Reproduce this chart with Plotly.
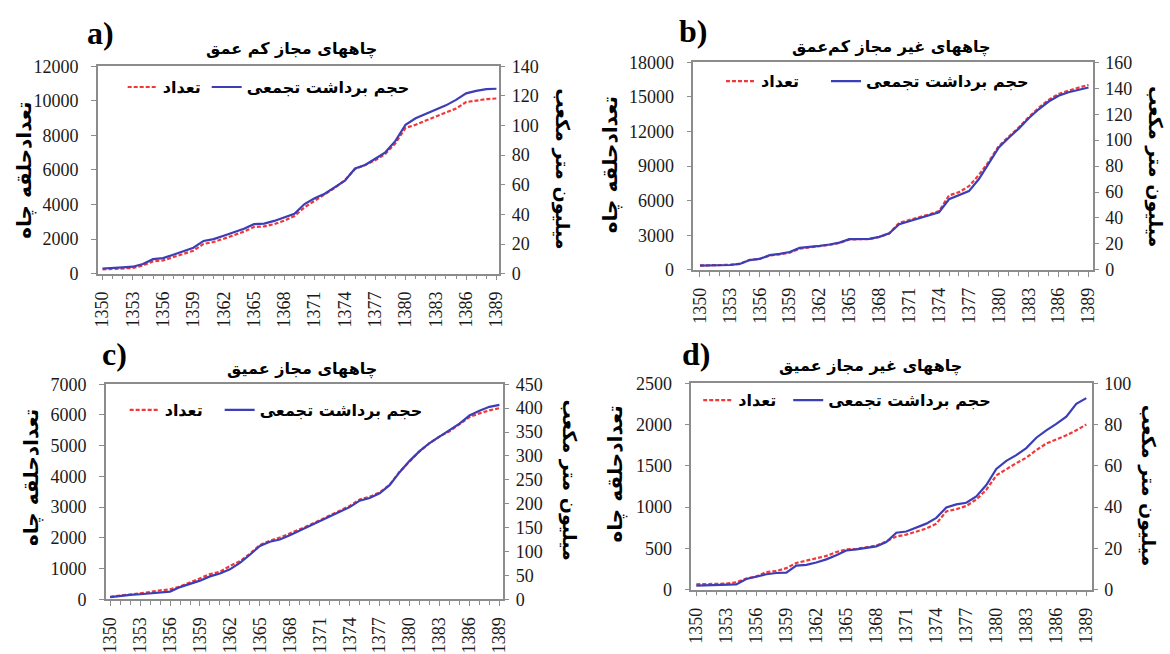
import plotly.graph_objects as go

# ---------------- data ----------------
years = list(range(1350, 1390))
x_tick_years = list(range(1350, 1390, 3))

# a) licensed shallow wells
count_a = [250, 270, 300, 330, 470, 710, 770, 955, 1120, 1330,
           1720, 1835, 2020, 2210, 2435, 2700, 2735, 2865, 3070, 3335,
           3840, 4214, 4570, 4963, 5413, 6050, 6292, 6555, 6930, 7548,
           8430, 8616, 8860, 9084, 9309, 9552, 9927, 10020, 10095, 10133]
volume_a = [3.5, 3.7, 4.2, 4.7, 6.5, 9.8, 10.5, 12.8, 15.1, 17.5,
            22.1, 23.3, 25.6, 27.8, 30.3, 33.4, 33.8, 35.6, 37.8, 40.4,
            47.0, 50.9, 54.0, 58.3, 62.7, 71.0, 73.4, 77.6, 81.9, 89.6,
            100.5, 104.9, 107.7, 110.8, 113.6, 117.3, 121.7, 123.4, 124.6, 124.8]

# b) unlicensed shallow wells
count_b = [380, 390, 410, 430, 520, 860, 960, 1230, 1340, 1480,
           1840, 1950, 2060, 2150, 2330, 2640, 2650, 2660, 2850, 3150,
           4080, 4300, 4580, 4800, 5100, 6450, 6740, 7250, 8230, 9400,
           10750, 11550, 12350, 13250, 14050, 14750, 15250, 15550, 15800, 16050]
volume_b = [3.3, 3.4, 3.6, 3.7, 4.5, 7.5, 8.4, 11.3, 12.3, 13.7,
            16.9, 17.5, 18.5, 19.5, 21.0, 23.6, 23.7, 23.8, 25.4, 28.2,
            35.1, 37.4, 39.9, 42.0, 44.4, 54.4, 57.4, 60.7, 70.0, 81.8,
            94.4, 101.9, 108.9, 116.9, 123.8, 129.8, 134.2, 136.9, 138.8, 140.6]

# c) licensed deep wells
count_c = [80, 120, 150, 190, 242, 295, 326, 420, 558, 695,
           821, 895, 1085, 1242, 1485, 1769, 1906, 2011, 2138, 2280,
           2420, 2580, 2740, 2880, 3040, 3250, 3340, 3480, 3730, 4150,
           4500, 4820, 5080, 5300, 5470, 5690, 5930, 6050, 6150, 6220]
volume_c = [4.8, 7.5, 9.4, 10.8, 12.9, 14.9, 16.3, 25.7, 31.8, 39.2,
            48.1, 54.1, 62.9, 76.5, 93.4, 111.7, 120.5, 125.2, 134.0, 144.2,
            154.3, 164.5, 174.7, 183.5, 192.9, 206.5, 211.9, 222.0, 238.9, 266.0,
            289.7, 310.0, 327.0, 340.5, 352.7, 367.6, 384.5, 394.6, 402.7, 406.8]

# d) unlicensed deep wells
count_d = [66, 70, 72, 74, 90, 136, 160, 214, 226, 261,
           324, 351, 378, 409, 456, 487, 495, 515, 534, 585,
           645, 667, 702, 741, 799, 948, 975, 1014, 1092, 1209,
           1384, 1462, 1532, 1598, 1690, 1770, 1820, 1870, 1930, 2000]
volume_d = [2.0, 2.2, 2.3, 2.3, 2.6, 5.2, 6.2, 7.5, 8.1, 8.3,
            11.7, 12.0, 13.2, 14.7, 16.7, 19.0, 19.5, 20.3, 21.0, 23.1,
            27.6, 28.2, 30.0, 32.0, 34.8, 39.8, 41.3, 42.1, 45.2, 50.7,
            58.5, 62.4, 65.2, 68.6, 73.6, 77.2, 80.3, 83.8, 90.0, 92.8]

left_ticks_a = [0, 2000, 4000, 6000, 8000, 10000, 12000]
right_ticks_a = [0, 20, 40, 60, 80, 100, 120, 140]
left_ticks_b = [0, 3000, 6000, 9000, 12000, 15000, 18000]
right_ticks_b = [0, 20, 40, 60, 80, 100, 120, 140, 160]
left_ticks_c = [0, 1000, 2000, 3000, 4000, 5000, 6000, 7000]
right_ticks_c = [0, 50, 100, 150, 200, 250, 300, 350, 400, 450]
left_ticks_d = [0, 500, 1000, 1500, 2000, 2500]
right_ticks_d = [0, 20, 40, 60, 80, 100]

title_a = "چاههای مجاز کم عمق"
title_b = "چاههای غیر مجاز کم\u200cعمق"
title_c = "چاههای مجاز عمیق"
title_d = "چاههای غیر مجاز عمیق"
label_count = "تعداد"
label_volume = "حجم برداشت تجمعی"
axis_title_left = "تعدادحلقه چاه"
axis_title_right = "میلیون متر مکعب"

# ---------------- style / layout ----------------
W, H = 1170, 654


def fx(p):
    return p / W


def fy(p):
    return 1 - p / H


RED = '#F03838'
BLUE = '#3B3EB6'
AXIS = '#8C8C8C'
TXT = '#1A1A1A'
SERIF = 'Liberation Serif'
FA = 'DejaVu Sans'

panels = [
    dict(tag='a)', count=count_a, vol=volume_a, title=title_a,
         box=(93, 499, 58, 272), xr=(1349.55, 1389.3),
         lt=left_ticks_a, rt=right_ticks_a,
         tag_xy=(96, 24), title_xy=(289, 40), lt_xy=(19, 165), rt_xy=(562, 164),
         leg_xy=(123, 84), leg_w=39),
    dict(tag='b)', count=count_b, vol=volume_b, title=title_b,
         box=(695, 1099, 54, 268), xr=(1349.33, 1389.43),
         lt=left_ticks_b, rt=right_ticks_b,
         tag_xy=(695, 22), title_xy=(895, 38), lt_xy=(611, 160), rt_xy=(1163, 161),
         leg_xy=(728, 78), leg_w=60),
    dict(tag='c)', count=count_c, vol=volume_c, title=title_c,
         box=(101, 503, 386, 608), xr=(1349.57, 1389.4),
         lt=left_ticks_c, rt=right_ticks_c,
         tag_xy=(110, 355), title_xy=(299, 370), lt_xy=(26, 482), rt_xy=(570, 485),
         leg_xy=(125, 417), leg_w=50),
    dict(tag='d)', count=count_d, vol=volume_d, title=title_d,
         box=(693, 1098, 385, 598), xr=(1349.5, 1389.55),
         lt=left_ticks_d, rt=right_ticks_d,
         tag_xy=(698, 355), title_xy=(874, 367), lt_xy=(616, 479), rt_xy=(1156, 490),
         leg_xy=(705, 407), leg_w=45),
]

fig = go.Figure()
layout = dict(width=W, height=H, margin=dict(l=0, r=0, t=0, b=0),
              paper_bgcolor='white', plot_bgcolor='white', showlegend=True,
              annotations=[])

for i, p in enumerate(panels):
    xa = 'x' if i == 0 else f'x{i + 1}'
    yl = 'y' if i == 0 else f'y{2 * i + 1}'
    yr = f'y{2 * i + 2}'
    lg = 'legend' if i == 0 else f'legend{i + 1}'
    x0, x1, y0, y1 = p['box']

    fig.add_trace(go.Scatter(
        x=years, y=p['count'], xaxis=xa, yaxis=yl, mode='lines',
        name=f'<b>{label_count}</b>', legend=lg, legendwidth=p['leg_w'],
        line=dict(color=RED, width=2.2, dash='4px,2px')))
    fig.add_trace(go.Scatter(
        x=years, y=p['vol'], xaxis=xa, yaxis=yr, mode='lines',
        name=f'<b>{label_volume}</b>', legend=lg,
        line=dict(color=BLUE, width=2.2)))

    xkey = 'xaxis' if i == 0 else f'xaxis{i + 1}'
    ylkey = 'yaxis' if i == 0 else f'yaxis{2 * i + 1}'
    yrkey = f'yaxis{2 * i + 2}'

    layout[xkey] = dict(
        domain=[fx(x0), fx(x1)], anchor=yl, range=list(p['xr']),
        tickmode='array', tickvals=x_tick_years, ticktext=[str(v) for v in x_tick_years],
        tickangle=-90, ticks='outside', ticklen=5, tickcolor=AXIS, tickwidth=1,
        minor=dict(tickmode='linear', tick0=1350, dtick=1, ticks='outside',
                   ticklen=4, tickcolor=AXIS, tickwidth=1),
        showline=True, linecolor=AXIS, linewidth=1.5, mirror=True,
        showgrid=False, zeroline=False, ticklabelstandoff=4,
        tickfont=dict(family=SERIF, size=18, color=TXT))
    layout[ylkey] = dict(
        domain=[fy(y1), fy(y0)], anchor=xa, range=[0, p['lt'][-1]],
        tickmode='array', tickvals=p['lt'], ticktext=[str(v) for v in p['lt']],
        ticks='outside', ticklen=5, tickcolor=AXIS, tickwidth=1,
        showline=True, linecolor=AXIS, linewidth=1.5, mirror=True,
        showgrid=False, zeroline=False, ticklabelstandoff=9,
        tickfont=dict(family=SERIF, size=18, color=TXT))
    layout[yrkey] = dict(
        overlaying=yl, side='right', anchor=xa, range=[0, p['rt'][-1]],
        tickmode='array', tickvals=p['rt'], ticktext=[str(v) for v in p['rt']],
        ticks='outside', ticklen=4, tickcolor=AXIS, tickwidth=1,
        showline=True, linecolor=AXIS, linewidth=1.5,
        showgrid=False, zeroline=False, ticklabelstandoff=3,
        tickfont=dict(family=SERIF, size=18, color=TXT))

    lx, ly = p['leg_xy']
    layout[lg] = dict(
        x=fx(lx - 5), y=fy(ly - 22), xanchor='left', yanchor='top',
        orientation='h', bgcolor='rgba(0,0,0,0)', borderwidth=0,
        itemwidth=30, tracegroupgap=0,
        font=dict(family=FA, size=16, color='black'))

    ann = layout['annotations']
    tx, ty = p['tag_xy']
    ann.append(dict(text=f'<b>{p["tag"]}</b>', x=fx(tx), y=fy(ty), xref='paper', yref='paper',
                    xanchor='center', yanchor='middle', showarrow=False,
                    font=dict(family=SERIF, size=32, color='black')))
    tx, ty = p['title_xy']
    ann.append(dict(text=f'<b>{p["title"]}</b>', x=fx(tx), y=fy(ty), xref='paper', yref='paper',
                    xanchor='center', yanchor='middle', showarrow=False,
                    font=dict(family=FA, size=16, color='black')))
    tx, ty = p['lt_xy']
    ann.append(dict(text=f'<b>{axis_title_left}</b>', x=fx(tx), y=fy(ty), xref='paper', yref='paper',
                    xanchor='center', yanchor='middle', showarrow=False, textangle=-90,
                    font=dict(family=FA, size=20, color='black')))
    tx, ty = p['rt_xy']
    ann.append(dict(text=f'<b>{axis_title_right}</b>', x=fx(tx), y=fy(ty), xref='paper', yref='paper',
                    xanchor='center', yanchor='middle', showarrow=False, textangle=90,
                    font=dict(family=FA, size=19, color='black')))

fig.update_layout(**layout)
fig.write_html("out.html")
